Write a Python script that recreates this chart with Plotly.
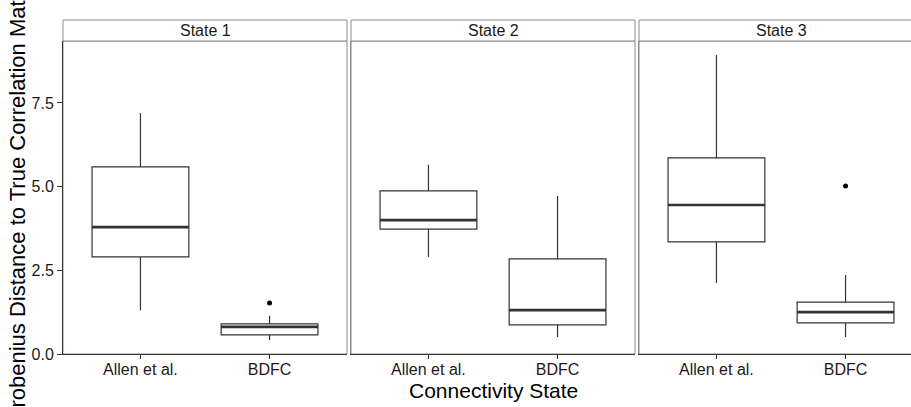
import plotly.graph_objects as go

# ---------------- data ----------------
states = ["State 1", "State 2", "State 3"]
methods = ["Allen et al.", "BDFC"]
method_pos = [1, 2]
# per state: [Allen et al., BDFC]
lower_whisker = [[1.31, 0.42], [2.90, 0.51], [2.12, 0.51]]
q1_vals = [[2.90, 0.57], [3.73, 0.87], [3.35, 0.93]]
median_vals = [[3.79, 0.81], [4.00, 1.31], [4.45, 1.25]]
q3_vals = [[5.59, 0.90], [4.87, 2.84], [5.86, 1.55]]
upper_whisker = [[7.20, 1.14], [5.65, 4.72], [8.93, 2.36]]
outliers = [[[], [1.52]], [[], []], [[], [5.02]]]
y_ticks = [0.0, 2.5, 5.0, 7.5]
y_ticktext = ["0.0", "2.5", "5.0", "7.5"]

# ---------------- layout constants ----------------
W, H = 911, 407
FONT = "Liberation Sans, Arial, Helvetica, sans-serif"
DARK = "#333333"
GRAY = "#8c8c8c"
BOX_W = 0.75

panels_px = [(63, 347), (351, 635), (639, 923)]
plot_top, plot_bot = 41, 354
strip_top = 20


def px_x(p):
    return p / W


def px_y(p):
    return (H - p) / H


fig = go.Figure()

for i, st in enumerate(states):
    sfx = "" if i == 0 else str(i + 1)
    xa, ya = "x" + sfx, "y" + sfx
    for j, m in enumerate(methods):
        fig.add_trace(go.Box(
            x=[method_pos[j]], q1=[q1_vals[i][j]], median=[median_vals[i][j]],
            q3=[q3_vals[i][j]], lowerfence=[lower_whisker[i][j]],
            upperfence=[upper_whisker[i][j]],
            width=BOX_W, whiskerwidth=0, boxpoints=False,
            line=dict(color=DARK, width=1.2), fillcolor="white",
            xaxis=xa, yaxis=ya, showlegend=False, hoverinfo="skip"))
        # thicker median line, as in ggplot
        fig.add_trace(go.Scatter(
            x=[method_pos[j] - BOX_W / 2, method_pos[j] + BOX_W / 2],
            y=[median_vals[i][j], median_vals[i][j]],
            mode="lines", line=dict(color=DARK, width=2.6),
            xaxis=xa, yaxis=ya, showlegend=False, hoverinfo="skip"))
        if outliers[i][j]:
            fig.add_trace(go.Scatter(
                x=[method_pos[j]] * len(outliers[i][j]), y=outliers[i][j],
                mode="markers", marker=dict(color="black", size=5),
                xaxis=xa, yaxis=ya, showlegend=False, hoverinfo="skip"))

layout = dict(
    width=W, height=H, margin=dict(l=0, r=0, t=0, b=0, autoexpand=False),
    paper_bgcolor="white", plot_bgcolor="white",
    font=dict(family=FONT, color="#1a1a1a", size=16),
    shapes=[], annotations=[],
)

ydom = [px_y(plot_bot), px_y(plot_top)]
for i, st in enumerate(states):
    sfx = "" if i == 0 else str(i + 1)
    x0p, x1p = panels_px[i]
    xdom = [px_x(x0p), min(1.0, px_x(x1p))]
    # keep the same scale even when the last panel is cut by the image edge
    full_w = x1p - x0p
    vis_w = min(x1p, W) - x0p
    xr = [0.4, 0.4 + 2.2 * vis_w / full_w]
    layout["xaxis" + sfx] = dict(
        domain=xdom, anchor="y" + sfx, range=xr, automargin=False,
        tickvals=method_pos, ticktext=methods,
        ticks="outside", ticklen=4, tickcolor=DARK, tickwidth=1,
        ticklabelstandoff=-3,
        showline=True, linecolor=DARK, linewidth=1,
        showgrid=False, zeroline=False,
        tickfont=dict(size=16, family=FONT, color="#1a1a1a"),
    )
    ydict = dict(
        domain=ydom, anchor="x" + sfx, range=[0, 9.35], automargin=False,
        showgrid=False, zeroline=False,
    )
    if i == 0:
        ydict.update(tickvals=y_ticks, ticktext=y_ticktext, ticks="outside",
                     ticklen=5, tickcolor=DARK, showline=True, linecolor=DARK,
                     linewidth=1, tickfont=dict(size=16, family=FONT, color="#1a1a1a"))
    else:
        ydict.update(showticklabels=False, ticks="", showline=True,
                     linecolor=GRAY, linewidth=1, matches="y")
    layout["yaxis" + sfx] = ydict

    # panel border (gray)
    layout["shapes"].append(dict(
        type="rect", xref="paper", yref="paper",
        x0=px_x(x0p), x1=px_x(x1p), y0=px_y(plot_bot), y1=px_y(plot_top),
        line=dict(color=GRAY, width=1), fillcolor="rgba(0,0,0,0)", layer="below"))
    # strip
    layout["shapes"].append(dict(
        type="rect", xref="paper", yref="paper",
        x0=px_x(x0p), x1=px_x(x1p), y0=px_y(plot_top), y1=px_y(strip_top),
        line=dict(color=GRAY, width=1), fillcolor="white", layer="above"))
    layout["annotations"].append(dict(
        text=st, xref="paper", yref="paper",
        x=px_x((x0p + x1p) / 2), y=px_y((plot_top + strip_top) / 2),
        showarrow=False, xanchor="center", yanchor="middle",
        font=dict(size=16, family=FONT, color="#1a1a1a")))

# axis titles
layout["annotations"].append(dict(
    text="Connectivity State", xref="paper", yref="paper",
    x=px_x((panels_px[0][0] + panels_px[2][1]) / 2), y=px_y(390),
    showarrow=False, xanchor="center", yanchor="middle",
    font=dict(size=21, family=FONT, color="black")))
layout["annotations"].append(dict(
    text="Frobenius Distance to True Correlation Matrix", xref="paper", yref="paper",
    x=px_x(17), y=px_y(199), textangle=-90,
    showarrow=False, xanchor="center", yanchor="middle",
    font=dict(size=22, family=FONT, color="black")))

fig.update_layout(**layout)
fig.write_html("out.html")
